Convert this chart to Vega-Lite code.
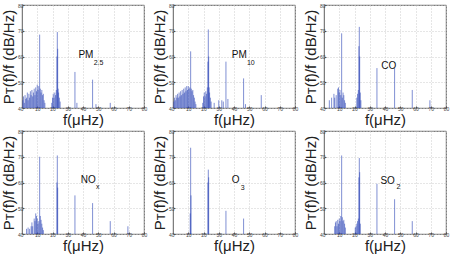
{
  "$schema": "https://vega.github.io/schema/vega-lite/v6.json",
  "padding": {"left": 1, "top": 2, "right": 0, "bottom": 0},
  "background": "white",
  "config": {
    "view": {"stroke": "#333333", "strokeWidth": 0.8},
    "font": "Liberation Sans",
    "header": {"labels": false, "title": null, "labelFontSize": 0, "labelPadding": 0, "titlePadding": 0},
    "axis": {
      "domain": false,
      "labelFontSize": 5,
      "labelColor": "#444444",
      "labelOverlap": false,
      "labelBound": false,
      "labelFlush": false,
      "tickColor": "#555555",
      "tickSize": -2,
      "gridColor": "#cccccc",
      "gridDash": [1, 2],
      "gridWidth": 1,
      "titleFont": "Liberation Sans",
      "titleFontWeight": "normal",
      "titleColor": "#222222"
    }
  },
  "data": {
    "values": [
      {"p": "PM2.5", "main": "PM", "sub": "2.5", "mx": 37, "my": 60.6, "sx": 47, "sy": 57.4},
      {"p": "PM10", "main": "PM", "sub": "10", "mx": 38.5, "my": 60.6, "sx": 48.5, "sy": 57.4},
      {"p": "CO", "main": "CO", "mx": 37.5, "my": 56.3},
      {"p": "NOx", "main": "NO", "sub": "x", "mx": 38.5, "my": 60.8, "sx": 48.5, "sy": 58.4},
      {"p": "O3", "main": "O", "sub": "3", "mx": 38.5, "my": 60.8, "sx": 44.5, "sy": 58},
      {"p": "SO2", "main": "SO", "sub": "2", "mx": 37, "my": 60.5, "sx": 47.5, "sy": 58.3},

      {"p": "PM2.5", "f": 0.5, "v": 43}, {"p": "PM2.5", "f": 1, "v": 44.5}, {"p": "PM2.5", "f": 1.5, "v": 42},
      {"p": "PM2.5", "f": 2, "v": 45}, {"p": "PM2.5", "f": 2.5, "v": 43.5}, {"p": "PM2.5", "f": 3, "v": 44},
      {"p": "PM2.5", "f": 3.5, "v": 46}, {"p": "PM2.5", "f": 4, "v": 43}, {"p": "PM2.5", "f": 4.5, "v": 45.5},
      {"p": "PM2.5", "f": 5, "v": 44}, {"p": "PM2.5", "f": 5.5, "v": 46.5}, {"p": "PM2.5", "f": 6, "v": 45},
      {"p": "PM2.5", "f": 6.5, "v": 47}, {"p": "PM2.5", "f": 7, "v": 44.5}, {"p": "PM2.5", "f": 7.5, "v": 46},
      {"p": "PM2.5", "f": 8, "v": 47.5}, {"p": "PM2.5", "f": 8.5, "v": 45}, {"p": "PM2.5", "f": 9, "v": 48},
      {"p": "PM2.5", "f": 9.5, "v": 46.5}, {"p": "PM2.5", "f": 10, "v": 49}, {"p": "PM2.5", "f": 10.5, "v": 47},
      {"p": "PM2.5", "f": 11, "v": 48.5}, {"p": "PM2.5", "f": 11.57, "v": 68.5}, {"p": "PM2.5", "f": 12, "v": 47.5},
      {"p": "PM2.5", "f": 12.5, "v": 46}, {"p": "PM2.5", "f": 13, "v": 47}, {"p": "PM2.5", "f": 13.5, "v": 45},
      {"p": "PM2.5", "f": 14, "v": 45.5}, {"p": "PM2.5", "f": 14.5, "v": 43}, {"p": "PM2.5", "f": 15, "v": 42},
      {"p": "PM2.5", "f": 19.5, "v": 42}, {"p": "PM2.5", "f": 20, "v": 44}, {"p": "PM2.5", "f": 20.5, "v": 45.5},
      {"p": "PM2.5", "f": 21, "v": 44}, {"p": "PM2.5", "f": 21.5, "v": 46}, {"p": "PM2.5", "f": 22, "v": 45},
      {"p": "PM2.5", "f": 22.5, "v": 47}, {"p": "PM2.5", "f": 22.9, "v": 60}, {"p": "PM2.5", "f": 23.15, "v": 69.5},
      {"p": "PM2.5", "f": 23.4, "v": 63}, {"p": "PM2.5", "f": 23.7, "v": 47.5}, {"p": "PM2.5", "f": 24, "v": 46},
      {"p": "PM2.5", "f": 24.5, "v": 44}, {"p": "PM2.5", "f": 25, "v": 42.5}, {"p": "PM2.5", "f": 34.72, "v": 54},
      {"p": "PM2.5", "f": 36, "v": 42}, {"p": "PM2.5", "f": 46.3, "v": 51}, {"p": "PM2.5", "f": 48.5, "v": 41.5},
      {"p": "PM2.5", "f": 57.87, "v": 42},

      {"p": "PM10", "f": 0.5, "v": 42.5}, {"p": "PM10", "f": 1, "v": 44}, {"p": "PM10", "f": 1.5, "v": 43},
      {"p": "PM10", "f": 2, "v": 45}, {"p": "PM10", "f": 2.5, "v": 44}, {"p": "PM10", "f": 3, "v": 45.5},
      {"p": "PM10", "f": 3.5, "v": 44}, {"p": "PM10", "f": 4, "v": 46}, {"p": "PM10", "f": 4.5, "v": 44.5},
      {"p": "PM10", "f": 5, "v": 46.5}, {"p": "PM10", "f": 5.5, "v": 45}, {"p": "PM10", "f": 6, "v": 47},
      {"p": "PM10", "f": 6.5, "v": 45.5}, {"p": "PM10", "f": 7, "v": 47.5}, {"p": "PM10", "f": 7.5, "v": 46},
      {"p": "PM10", "f": 8, "v": 48}, {"p": "PM10", "f": 8.5, "v": 46.5}, {"p": "PM10", "f": 9, "v": 48.5},
      {"p": "PM10", "f": 9.5, "v": 47}, {"p": "PM10", "f": 10, "v": 48.5}, {"p": "PM10", "f": 10.5, "v": 47.5},
      {"p": "PM10", "f": 11, "v": 48}, {"p": "PM10", "f": 11.57, "v": 62}, {"p": "PM10", "f": 12, "v": 47.5},
      {"p": "PM10", "f": 12.5, "v": 46.5}, {"p": "PM10", "f": 13, "v": 47}, {"p": "PM10", "f": 13.5, "v": 45},
      {"p": "PM10", "f": 14, "v": 44}, {"p": "PM10", "f": 14.5, "v": 42.5}, {"p": "PM10", "f": 15, "v": 41.5},
      {"p": "PM10", "f": 19.5, "v": 42}, {"p": "PM10", "f": 20, "v": 44.5}, {"p": "PM10", "f": 20.5, "v": 46},
      {"p": "PM10", "f": 21, "v": 44.5}, {"p": "PM10", "f": 21.5, "v": 46.5}, {"p": "PM10", "f": 22, "v": 45.5},
      {"p": "PM10", "f": 22.5, "v": 48}, {"p": "PM10", "f": 22.9, "v": 58}, {"p": "PM10", "f": 23.15, "v": 70.5},
      {"p": "PM10", "f": 23.4, "v": 60}, {"p": "PM10", "f": 23.7, "v": 48}, {"p": "PM10", "f": 24, "v": 46},
      {"p": "PM10", "f": 24.5, "v": 44}, {"p": "PM10", "f": 25, "v": 42.5}, {"p": "PM10", "f": 27, "v": 42},
      {"p": "PM10", "f": 30, "v": 43}, {"p": "PM10", "f": 32, "v": 43}, {"p": "PM10", "f": 33, "v": 42.5},
      {"p": "PM10", "f": 34.72, "v": 58}, {"p": "PM10", "f": 36, "v": 43.5}, {"p": "PM10", "f": 46.3, "v": 51.5},
      {"p": "PM10", "f": 47.5, "v": 41.5}, {"p": "PM10", "f": 57.87, "v": 45},

      {"p": "CO", "f": 3.5, "v": 43}, {"p": "CO", "f": 5, "v": 44}, {"p": "CO", "f": 6.5, "v": 45.5},
      {"p": "CO", "f": 7, "v": 44}, {"p": "CO", "f": 8, "v": 45}, {"p": "CO", "f": 9, "v": 47.5},
      {"p": "CO", "f": 9.5, "v": 48}, {"p": "CO", "f": 10, "v": 46}, {"p": "CO", "f": 10.5, "v": 47},
      {"p": "CO", "f": 11, "v": 45}, {"p": "CO", "f": 11.57, "v": 69}, {"p": "CO", "f": 12, "v": 44},
      {"p": "CO", "f": 12.5, "v": 46}, {"p": "CO", "f": 13, "v": 45}, {"p": "CO", "f": 13.5, "v": 43},
      {"p": "CO", "f": 14, "v": 42}, {"p": "CO", "f": 21.5, "v": 44}, {"p": "CO", "f": 22, "v": 45.5},
      {"p": "CO", "f": 22.5, "v": 47}, {"p": "CO", "f": 22.9, "v": 64}, {"p": "CO", "f": 23.15, "v": 71.5},
      {"p": "CO", "f": 23.4, "v": 60}, {"p": "CO", "f": 23.8, "v": 46}, {"p": "CO", "f": 24.2, "v": 43},
      {"p": "CO", "f": 34.72, "v": 55.5}, {"p": "CO", "f": 46.3, "v": 55.5}, {"p": "CO", "f": 57.87, "v": 47},
      {"p": "CO", "f": 69.44, "v": 43},

      {"p": "NOx", "f": 3, "v": 42}, {"p": "NOx", "f": 4, "v": 42.5}, {"p": "NOx", "f": 5, "v": 42},
      {"p": "NOx", "f": 6, "v": 43}, {"p": "NOx", "f": 6.5, "v": 44.5}, {"p": "NOx", "f": 7, "v": 43},
      {"p": "NOx", "f": 8, "v": 46}, {"p": "NOx", "f": 8.5, "v": 45}, {"p": "NOx", "f": 9, "v": 48},
      {"p": "NOx", "f": 9.5, "v": 47}, {"p": "NOx", "f": 10, "v": 46}, {"p": "NOx", "f": 10.5, "v": 44},
      {"p": "NOx", "f": 11, "v": 45}, {"p": "NOx", "f": 11.57, "v": 70}, {"p": "NOx", "f": 12, "v": 47},
      {"p": "NOx", "f": 12.5, "v": 45.5}, {"p": "NOx", "f": 13, "v": 44}, {"p": "NOx", "f": 13.5, "v": 42.5},
      {"p": "NOx", "f": 14, "v": 41.5}, {"p": "NOx", "f": 22.9, "v": 60}, {"p": "NOx", "f": 23.15, "v": 70.5},
      {"p": "NOx", "f": 23.4, "v": 58}, {"p": "NOx", "f": 34.72, "v": 55}, {"p": "NOx", "f": 46.3, "v": 52},
      {"p": "NOx", "f": 57.87, "v": 45}, {"p": "NOx", "f": 69.44, "v": 43},

      {"p": "O3", "f": 11.3, "v": 48}, {"p": "O3", "f": 11.57, "v": 73.5}, {"p": "O3", "f": 11.8, "v": 55},
      {"p": "O3", "f": 22.9, "v": 60}, {"p": "O3", "f": 23.15, "v": 65}, {"p": "O3", "f": 23.4, "v": 62},
      {"p": "O3", "f": 34.72, "v": 49}, {"p": "O3", "f": 46.3, "v": 46},

      {"p": "SO2", "f": 7, "v": 43}, {"p": "SO2", "f": 7.5, "v": 44.5}, {"p": "SO2", "f": 8, "v": 45},
      {"p": "SO2", "f": 8.5, "v": 43}, {"p": "SO2", "f": 9, "v": 45.5}, {"p": "SO2", "f": 9.5, "v": 44},
      {"p": "SO2", "f": 10, "v": 46}, {"p": "SO2", "f": 10.5, "v": 45}, {"p": "SO2", "f": 11, "v": 47},
      {"p": "SO2", "f": 11.57, "v": 70.5}, {"p": "SO2", "f": 12, "v": 46.5}, {"p": "SO2", "f": 12.5, "v": 45},
      {"p": "SO2", "f": 13, "v": 45.5}, {"p": "SO2", "f": 13.5, "v": 44}, {"p": "SO2", "f": 14, "v": 42.5},
      {"p": "SO2", "f": 20.5, "v": 42.5}, {"p": "SO2", "f": 21, "v": 43}, {"p": "SO2", "f": 21.5, "v": 44},
      {"p": "SO2", "f": 22, "v": 45}, {"p": "SO2", "f": 22.5, "v": 46}, {"p": "SO2", "f": 22.9, "v": 62},
      {"p": "SO2", "f": 23.15, "v": 69.5}, {"p": "SO2", "f": 23.4, "v": 64}, {"p": "SO2", "f": 23.8, "v": 44},
      {"p": "SO2", "f": 34.72, "v": 59.5}, {"p": "SO2", "f": 46.3, "v": 53.5}, {"p": "SO2", "f": 57.87, "v": 45}
    ]
  },
  "facet": {
    "field": "p",
    "type": "nominal",
    "sort": ["PM2.5", "PM10", "CO", "NOx", "O3", "SO2"],
    "header": {"title": null, "labels": false, "labelFontSize": 0, "labelPadding": 0}
  },
  "columns": 3,
  "spacing": {"row": 0, "column": 4},
  "resolve": {"axis": {"x": "independent", "y": "independent"}},
  "spec": {
    "width": 122,
    "height": 103,
    "layer": [
      {
        "transform": [{"filter": "isValid(datum.v)"}],
        "mark": {"type": "rule", "color": "#2b45b5", "strokeWidth": 1, "opacity": 0.6},
        "encoding": {
          "x": {
            "field": "f", "type": "quantitative",
            "scale": {"domain": [0, 80], "nice": false},
            "axis": {"tickCount": 8, "values": [10, 20, 30, 40, 50, 60, 70, 80], "title": "f(μHz)", "titleFontSize": 15, "titlePadding": 1, "labelPadding": 0, "grid": true}
          },
          "y": {
            "field": "v", "type": "quantitative",
            "scale": {"domain": [40, 80], "nice": false},
            "axis": {"tickCount": 8, "values": [40, 45, 50, 55, 60, 65, 70, 75, 80], "title": "Pᴛ(f)/f (dB/Hz)", "titleFontSize": 15, "titlePadding": 1, "labelPadding": 1, "grid": true}
          },
          "y2": {"datum": 40}
        }
      },
      {
        "transform": [{"filter": "isValid(datum.main)"}],
        "mark": {"type": "text", "fontSize": 10, "align": "left", "baseline": "middle", "color": "#111111"},
        "encoding": {
          "x": {"field": "mx", "type": "quantitative", "axis": {"tickCount": 8, "values": [10, 20, 30, 40, 50, 60, 70, 80]}},
          "y": {"field": "my", "type": "quantitative", "axis": {"tickCount": 8, "values": [40, 45, 50, 55, 60, 65, 70, 75, 80]}},
          "text": {"field": "main"}
        }
      },
      {
        "transform": [{"filter": "isValid(datum.sub)"}],
        "mark": {"type": "text", "fontSize": 7, "align": "left", "baseline": "middle", "color": "#111111"},
        "encoding": {
          "x": {"field": "sx", "type": "quantitative", "axis": {"tickCount": 8, "values": [10, 20, 30, 40, 50, 60, 70, 80]}},
          "y": {"field": "sy", "type": "quantitative", "axis": {"tickCount": 8, "values": [40, 45, 50, 55, 60, 65, 70, 75, 80]}},
          "text": {"field": "sub"}
        }
      }
    ]
  }
}
